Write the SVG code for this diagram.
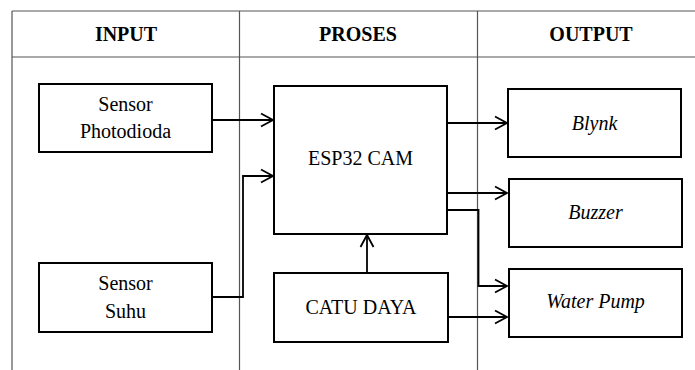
<svg xmlns="http://www.w3.org/2000/svg" width="695" height="370" viewBox="0 0 695 370">
<defs>
<marker id="arr" markerUnits="userSpaceOnUse" markerWidth="16" markerHeight="16" viewBox="-13 -8 16 16" refX="0" refY="0" orient="auto">
<path d="M-12,-6.5 L0,0 L-12,6.5" fill="none" stroke="#000" stroke-width="1.8"/>
</marker>
</defs>
<style>
.tbl{stroke:#555;stroke-width:1.2;fill:none}
text{font-family:'Liberation Serif','Times New Roman',Times,'DejaVu Serif',serif}
.hd{font-weight:bold;font-size:20px;fill:#000;text-anchor:middle}
.box{fill:#fff;stroke:#000;stroke-width:2}
.t{font-size:20px;fill:#000;text-anchor:middle}
.i{font-style:italic}
.c{fill:none;stroke:#000;stroke-width:1.8;marker-end:url(#arr)}
</style>
<rect width="695" height="370" fill="#fff"/>
<g id="table">
<line class="tbl" x1="12" y1="11" x2="695" y2="11"/>
<line class="tbl" x1="12" y1="57" x2="695" y2="57"/>
<line class="tbl" x1="12" y1="11" x2="12" y2="370" stroke-width="1.6"/>
<line class="tbl" x1="239.5" y1="11" x2="239.5" y2="370"/>
<line class="tbl" x1="477.5" y1="11" x2="477.5" y2="370"/>
<text class="hd" x="126" y="41" font-family="Liberation Serif, serif">INPUT</text>
<text class="hd" x="358" y="41" font-family="Liberation Serif, serif">PROSES</text>
<text class="hd" x="591" y="41" font-family="Liberation Serif, serif">OUTPUT</text>
</g>
<g id="connectors">
<path class="c" d="M212,120 H273"/>
<path class="c" d="M212,297 H243 V176 H273"/>
<path class="c" d="M447,123 H507"/>
<path class="c" d="M447,193 H507"/>
<path class="c" d="M447,210 H478.5 V286 H507"/>
<path class="c" d="M448,317 H507"/>
<path class="c" d="M367,273 V235"/>
</g>
<g id="sensor-photodioda">
<rect class="box" x="39" y="84" width="173" height="68"/>
<text class="t" x="125.5" y="111" font-family="Liberation Serif, serif">Sensor</text>
<text class="t" x="125.5" y="138" font-family="Liberation Serif, serif">Photodioda</text>
</g>
<g id="sensor-suhu">
<rect class="box" x="39" y="263" width="173" height="69"/>
<text class="t" x="125.5" y="290" font-family="Liberation Serif, serif">Sensor</text>
<text class="t" x="125.5" y="318" font-family="Liberation Serif, serif">Suhu</text>
</g>
<g id="esp32-cam">
<rect class="box" x="274" y="86" width="173" height="148"/>
<text class="t" x="360.5" y="165" font-family="Liberation Serif, serif">ESP32 CAM</text>
</g>
<g id="catu-daya">
<rect class="box" x="274" y="273" width="174" height="69"/>
<text class="t" x="361" y="314" font-family="Liberation Serif, serif">CATU DAYA</text>
</g>
<g id="blynk">
<rect class="box" x="508" y="89" width="173" height="68"/>
<text class="t i" x="594.5" y="130" font-family="Liberation Serif, serif">Blynk</text>
</g>
<g id="buzzer">
<rect class="box" x="509" y="179" width="173" height="68"/>
<text class="t i" x="595.5" y="219" font-family="Liberation Serif, serif">Buzzer</text>
</g>
<g id="water-pump">
<rect class="box" x="509" y="269" width="173" height="68"/>
<text class="t i" x="595.5" y="308" font-family="Liberation Serif, serif">Water Pump</text>
</g>
</svg>
